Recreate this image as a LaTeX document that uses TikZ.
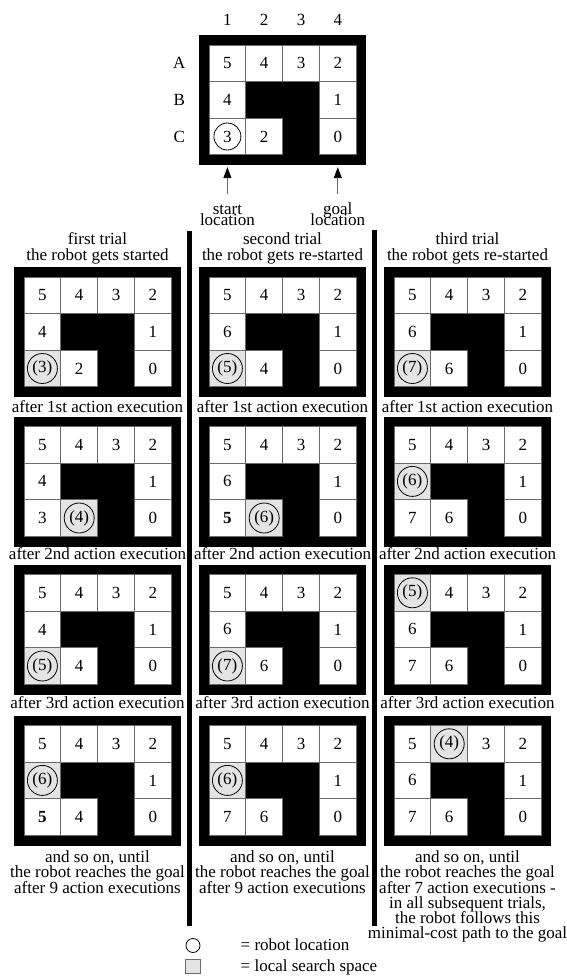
\documentclass[tikz,border=0pt]{standalone}
\usepackage{fontspec}
\setmainfont{Liberation Serif}
\usetikzlibrary{arrows.meta}
\definecolor{shade}{HTML}{E4E4E4}
\definecolor{cellline}{HTML}{6A6A6A}
\definecolor{shaft}{HTML}{6A6A6A}
\tikzset{
  outerbox/.style={fill=black, draw=none, minimum width=167pt, minimum height=130pt, inner sep=0pt},
  cellbox/.style={fill=white, draw=cellline, line width=0.8pt, minimum width=36.8pt, minimum height=36.6pt, inner sep=0pt},
  shadedcell/.style={cellbox, fill=shade},
  robot/.style={circle, draw=black, line width=0.8pt, minimum size=30pt, inner sep=0pt},
  txt/.style={inner sep=0pt},
  arrowline/.style={draw=shaft, line width=0.9pt, -{Triangle[length=11pt,width=8pt,color=black,fill=black]}, shorten >=2pt},
  bar/.style={line width=4.5pt, draw=black},
  legcircle/.style={circle, draw=black, line width=0.8pt, minimum size=14pt, inner sep=0pt},
  legsquare/.style={rectangle, draw=cellline, fill=shade, line width=0.8pt, minimum size=14.5pt, inner sep=0pt}
}
\newcommand\gc[3]{\node[cellbox] (\gname-#1-#2) at ({10+(#1-0.5)*36.8},{10+(#2-0.5)*36.6}) {#3};}
\newcommand\cells[9]{\gc{1}{1}{#1}\gc{2}{1}{#2}\gc{3}{1}{#3}\gc{4}{1}{#4}\gc{1}{2}{#5}\gc{4}{2}{#6}\gc{1}{3}{#7}\gc{2}{3}{#8}\gc{4}{3}{#9}}
\newcommand\rob[3]{\node[shadedcell] (\gname-s) at ({10+(#1-0.5)*36.8},{10+(#2-0.5)*36.6}) {}; \node[robot] (\gname-r) at (\gname-s) {(#3)};}
\newcommand\grid[4]{\def\gname{#1}\begin{scope}[shift={(#2,#3)}]\node[outerbox] (#1) at (83.5,65) {};#4\end{scope}}
\begin{document}
\begin{tikzpicture}[x=1pt, y=-1pt, font=\fontsize{17}{15}\selectfont]
\useasboundingbox (0,0) rectangle (566,976);
% top grid
\grid{top}{199}{35}{\cells{5}{4}{3}{2}{4}{1}{}{2}{0}\node[robot,minimum size=27pt] (top-r) at (top-1-3) {3};}
\node[txt] (col1) at (227.4,20) {1};
\node[txt] (col2) at (264.2,20) {2};
\node[txt] (col3) at (301.0,20) {3};
\node[txt] (col4) at (337.8,20) {4};
\node[txt] (rowA) at (179.3,63.3) {A};
\node[txt] (rowB) at (179.3,99.9) {B};
\node[txt] (rowC) at (179.3,136.5) {C};
\coordinate (sa) at (227.4,194);
\coordinate (ga) at (337.8,194);
\draw[arrowline] (sa) -- (sa |- top.south);
\draw[arrowline] (ga) -- (ga |- top.south);
\node[txt, anchor=base] (st1) at (227.4,214.5) {start};
\node[txt, anchor=base] (st2) at (227.4,225.5) {location};
\node[txt, anchor=base] (go1) at (337.8,214.5) {goal};
\node[txt, anchor=base] (go2) at (337.8,225.5) {location};
% bars
\coordinate (b1t) at (189.5,231); \coordinate (b1b) at (189.5,926);
\coordinate (b2t) at (374.5,230); \coordinate (b2b) at (374.5,926);
\draw[bar] (b1t) -- (b1b);
\draw[bar] (b2t) -- (b2b);
% headers
\node[txt, anchor=base] (h11) at (97.5,244) {first trial};
\node[txt, anchor=base] (h12) at (97.5,260.5) {the robot gets started};
\node[txt, anchor=base] (h21) at (282.5,244) {second trial};
\node[txt, anchor=base] (h22) at (282.5,260.5) {the robot gets re-started};
\node[txt, anchor=base] (h31) at (467.5,244) {third trial};
\node[txt, anchor=base] (h32) at (467.5,260.5) {the robot gets re-started};
% column 1
\grid{g11}{14}{267}{\cells{5}{4}{3}{2}{4}{1}{}{2}{0}\rob{1}{3}{3}}
\grid{g12}{14}{416.5}{\cells{5}{4}{3}{2}{4}{1}{3}{}{0}\rob{2}{3}{4}}
\grid{g13}{14}{564.5}{\cells{5}{4}{3}{2}{4}{1}{}{4}{0}\rob{1}{3}{5}}
\grid{g14}{14}{715.5}{\cells{5}{4}{3}{2}{}{1}{\textbf{5}}{4}{0}\rob{1}{2}{6}}
% column 2
\grid{g21}{199}{267}{\cells{5}{4}{3}{2}{6}{1}{}{4}{0}\rob{1}{3}{5}}
\grid{g22}{199}{416.5}{\cells{5}{4}{3}{2}{6}{1}{\textbf{5}}{}{0}\rob{2}{3}{6}}
\grid{g23}{199}{564.5}{\cells{5}{4}{3}{2}{6}{1}{}{6}{0}\rob{1}{3}{7}}
\grid{g24}{199}{715.5}{\cells{5}{4}{3}{2}{}{1}{7}{6}{0}\rob{1}{2}{6}}
% column 3
\grid{g31}{384}{267}{\cells{5}{4}{3}{2}{6}{1}{}{6}{0}\rob{1}{3}{7}}
\grid{g32}{384}{416.5}{\cells{5}{4}{3}{2}{}{1}{7}{6}{0}\rob{1}{2}{6}}
\grid{g33}{384}{564.5}{\cells{}{4}{3}{2}{6}{1}{7}{6}{0}\rob{1}{1}{5}}
\grid{g34}{384}{715.5}{\cells{5}{}{3}{2}{6}{1}{7}{6}{0}\rob{2}{1}{4}}
% captions
\node[txt, anchor=base] (c11) at (97.5,412.5) {after 1st action execution};
\node[txt, anchor=base] (c12) at (97.5,559) {after 2nd action execution};
\node[txt, anchor=base] (c13) at (97.5,708) {after 3rd action execution};
\node[txt, anchor=base] (c21) at (282.5,412.5) {after 1st action execution};
\node[txt, anchor=base] (c22) at (282.5,559) {after 2nd action execution};
\node[txt, anchor=base] (c23) at (282.5,708) {after 3rd action execution};
\node[txt, anchor=base] (c31) at (467.5,412.5) {after 1st action execution};
\node[txt, anchor=base] (c32) at (467.5,559) {after 2nd action execution};
\node[txt, anchor=base] (c33) at (467.5,708) {after 3rd action execution};
% bottom texts
\node[txt, anchor=base] (e11) at (97.5,862) {and so on, until};
\node[txt, anchor=base] (e12) at (97.5,877.5) {the robot reaches the goal};
\node[txt, anchor=base] (e13) at (97.5,893) {after 9 action executions};
\node[txt, anchor=base] (e21) at (282.5,862) {and so on, until};
\node[txt, anchor=base] (e22) at (282.5,877.5) {the robot reaches the goal};
\node[txt, anchor=base] (e23) at (282.5,893) {after 9 action executions};
\node[txt, anchor=base] (e31) at (467.5,862) {and so on, until};
\node[txt, anchor=base] (e32) at (467.5,877.5) {the robot reaches the goal};
\node[txt, anchor=base] (e33) at (467.5,893) {after 7 action executions -};
\node[txt, anchor=base] (e34) at (467.5,908) {in all subsequent trials,};
\node[txt, anchor=base] (e35) at (467.5,923) {the robot follows this};
\node[txt, anchor=base] (e36) at (467.5,938) {minimal-cost path to the goal};
% legend
\node[legcircle] (lc) at (193,945.5) {};
\node[legsquare] (ls) at (193,966.5) {};
\node[txt, anchor=base west] (lt1) at (240.5,950) {= robot location};
\node[txt, anchor=base west] (lt2) at (240.5,971) {= local search space};
\end{tikzpicture}
\end{document}
